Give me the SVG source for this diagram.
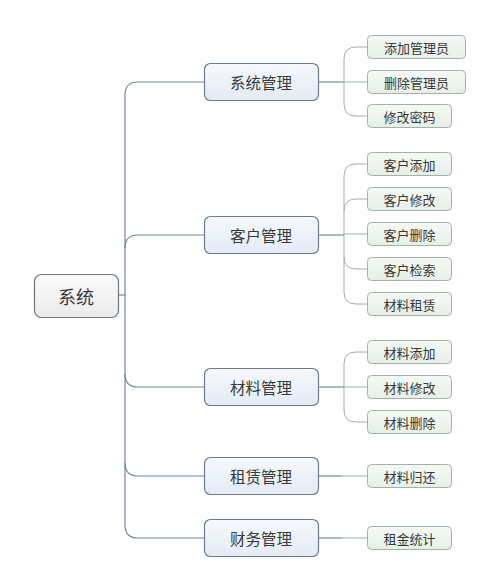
<svg xmlns="http://www.w3.org/2000/svg" width="500" height="564" viewBox="0 0 500 564">
<defs>
<linearGradient id="gRoot" x1="0" y1="0" x2="0" y2="1"><stop offset="0" stop-color="#fbfbfb"/><stop offset="1" stop-color="#ebebeb"/></linearGradient>
<linearGradient id="gL1" x1="0" y1="0" x2="0" y2="1"><stop offset="0" stop-color="#f6f9fd"/><stop offset="1" stop-color="#e3ebf5"/></linearGradient>
<linearGradient id="gL2" x1="0" y1="0" x2="0" y2="1"><stop offset="0" stop-color="#f5f9f5"/><stop offset="1" stop-color="#e6efe7"/></linearGradient>
</defs>
<style>
.root rect{fill:url(#gRoot);stroke:#6f7478;stroke-width:1.2}
.l1 rect{fill:url(#gL1);stroke:#6b7b8c;stroke-width:1.2}
.l2 rect{fill:url(#gL2);stroke:#a3b2a6;stroke-width:1}
text{font-family:"Noto Sans CJK SC","Noto Sans",sans-serif;fill:#383838;text-anchor:middle;dominant-baseline:central}
.root text{font-size:18px}
.l1 text{font-size:15.5px}
.l2 text{font-size:13px}
.c{fill:none;stroke:#74889a;stroke-width:1.2}
.c2{fill:none;stroke:#a0b0ac;stroke-width:1}
</style>
<rect width="500" height="564" fill="#fff"/>
<g id="connectors">
<path class="c" d="M119 295 H125"/>
<path class="c" d="M204 82 H138 Q125 82 125 95 V525 Q125 538 138 538 H204"/>
<path class="c" d="M125 248 Q125 235 138 235 H204"/>
<path class="c" d="M125 374 Q125 387 138 387 H204"/>
<path class="c" d="M125 463 Q125 476 138 476 H204"/>
<path class="c" d="M318 82 H344"/>
<path class="c2" d="M367 47 H356 Q344 47 344 59 V104 Q344 116 356 116 H367"/>
<path class="c2" d="M344 82 H367"/>
<path class="c" d="M318 235 H344"/>
<path class="c2" d="M367 164 H356 Q344 164 344 176 V292 Q344 304 356 304 H367"/>
<path class="c2" d="M344 211 Q344 199 356 199 H367"/>
<path class="c2" d="M344 234 H367"/>
<path class="c2" d="M344 257 Q344 269 356 269 H367"/>
<path class="c" d="M318 387 H344"/>
<path class="c2" d="M367 352 H356 Q344 352 344 364 V410 Q344 422 356 422 H367"/>
<path class="c2" d="M344 387 H367"/>
<path class="c" d="M318 476 H342"/>
<path class="c2" d="M342 476 H367"/>
<path class="c" d="M318 538 H342"/>
<path class="c2" d="M342 538 H367"/>
</g>
<g id="root" class="root"><rect x="34.5" y="274.5" width="84" height="43" rx="7"/><text x="76" y="296">系统</text></g>
<g id="n-sys" class="l1"><rect x="204.5" y="63.5" width="114" height="37" rx="6"/><text x="261" y="82">系统管理</text></g>
<g id="n-cust" class="l1"><rect x="204.5" y="216.5" width="114" height="37" rx="6"/><text x="261" y="235">客户管理</text></g>
<g id="n-mat" class="l1"><rect x="204.5" y="368.5" width="114" height="37" rx="6"/><text x="261" y="387">材料管理</text></g>
<g id="n-rent" class="l1"><rect x="204.5" y="457.5" width="114" height="37" rx="6"/><text x="261" y="476">租赁管理</text></g>
<g id="n-fin" class="l1"><rect x="204.5" y="519.5" width="114" height="37" rx="6"/><text x="261" y="538">财务管理</text></g>
<g id="s1" class="l2"><rect x="367.5" y="35.5" width="98" height="23" rx="4"/><text x="416.5" y="47">添加管理员</text></g>
<g id="s2" class="l2"><rect x="367.5" y="70.5" width="98" height="23" rx="4"/><text x="416.5" y="82">删除管理员</text></g>
<g id="s3" class="l2"><rect x="367.5" y="104.5" width="84" height="23" rx="4"/><text x="409.5" y="116">修改密码</text></g>
<g id="s4" class="l2"><rect x="367.5" y="152.5" width="84" height="23" rx="4"/><text x="409.5" y="164">客户添加</text></g>
<g id="s5" class="l2"><rect x="367.5" y="187.5" width="84" height="23" rx="4"/><text x="409.5" y="199">客户修改</text></g>
<g id="s6" class="l2"><rect x="367.5" y="222.5" width="84" height="23" rx="4"/><text x="409.5" y="234">客户删除</text></g>
<g id="s7" class="l2"><rect x="367.5" y="257.5" width="84" height="23" rx="4"/><text x="409.5" y="269">客户检索</text></g>
<g id="s8" class="l2"><rect x="367.5" y="292.5" width="84" height="23" rx="4"/><text x="409.5" y="304">材料租赁</text></g>
<g id="s9" class="l2"><rect x="367.5" y="340.5" width="84" height="23" rx="4"/><text x="409.5" y="352">材料添加</text></g>
<g id="s10" class="l2"><rect x="367.5" y="375.5" width="84" height="23" rx="4"/><text x="409.5" y="387">材料修改</text></g>
<g id="s11" class="l2"><rect x="367.5" y="410.5" width="84" height="23" rx="4"/><text x="409.5" y="422">材料删除</text></g>
<g id="s12" class="l2"><rect x="367.5" y="464.5" width="84" height="23" rx="4"/><text x="409.5" y="476">材料归还</text></g>
<g id="s13" class="l2"><rect x="367.5" y="526.5" width="84" height="23" rx="4"/><text x="409.5" y="538">租金统计</text></g>
</svg>
